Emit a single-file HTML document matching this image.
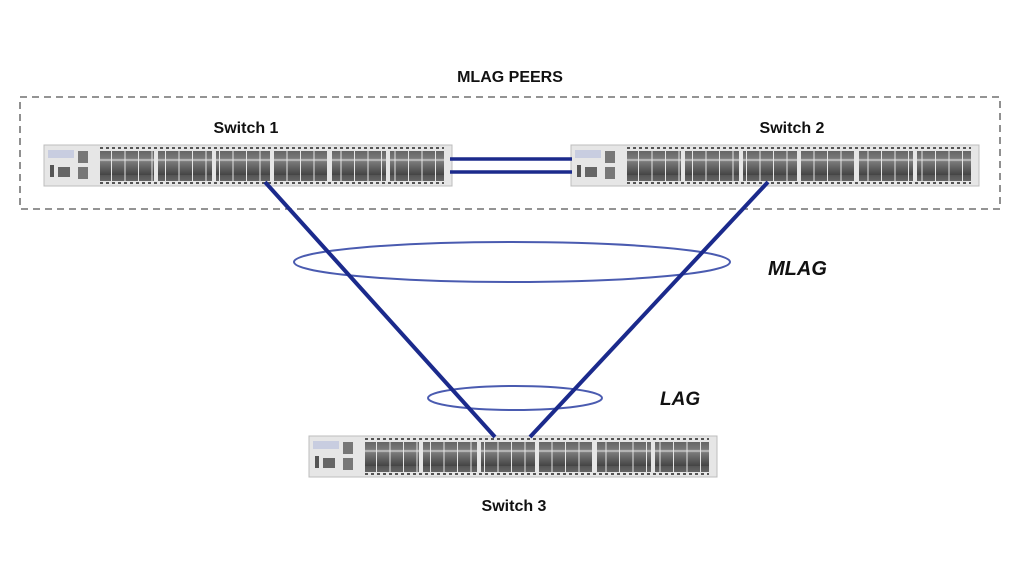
<!DOCTYPE html>
<html><head><meta charset="utf-8"><style>
html,body{margin:0;padding:0;background:#fff;}
svg{display:block;}
text{font-family:"Liberation Sans",Arial,sans-serif;font-weight:bold;fill:#111;}
</style></head><body>
<svg width="1024" height="563" viewBox="0 0 1024 563" xmlns="http://www.w3.org/2000/svg">
<defs>
<linearGradient id="pg" x1="0" y1="0" x2="0" y2="1">
<stop offset="0" stop-color="#555"/><stop offset="0.45" stop-color="#7a7a7a"/><stop offset="0.5" stop-color="#cfcfcf"/><stop offset="0.55" stop-color="#7a7a7a"/><stop offset="1" stop-color="#444"/>
</linearGradient>
<pattern id="ports" x="0" y="0" width="13.5" height="30" patternUnits="userSpaceOnUse">
<rect x="0.5" y="0" width="12.5" height="30" fill="url(#pg)"/>
</pattern>
<g id="sw">
<rect x="0" y="0" width="408" height="41" fill="#e6e6e6" stroke="#bdbdbd" stroke-width="1"/>
<rect x="4" y="5" width="26" height="8" fill="#c8cde0"/>
<rect x="6" y="20" width="4" height="12" fill="#555"/>
<rect x="14" y="22" width="12" height="10" fill="#666"/>
<rect x="34" y="6" width="10" height="12" fill="#777"/>
<rect x="34" y="22" width="10" height="12" fill="#777"/>
<g fill="url(#ports)">
<rect x="56" y="6" width="54" height="30"/>
<rect x="114" y="6" width="54" height="30"/>
<rect x="172" y="6" width="54" height="30"/>
<rect x="230" y="6" width="54" height="30"/>
<rect x="288" y="6" width="54" height="30"/>
<rect x="346" y="6" width="54" height="30"/>
</g>
<line x1="56" y1="3" x2="400" y2="3" stroke="#555" stroke-width="2" stroke-dasharray="3 3"/>
<line x1="56" y1="38" x2="400" y2="38" stroke="#555" stroke-width="2" stroke-dasharray="3 3"/>
</g>
</defs>
<text x="510" y="82" font-size="16" text-anchor="middle">MLAG PEERS</text>
<rect x="20" y="97" width="980" height="112" fill="none" stroke="#555" stroke-width="1.3" stroke-dasharray="7 5"/>
<text x="246" y="133" font-size="16" text-anchor="middle">Switch 1</text>
<text x="792" y="133" font-size="16" text-anchor="middle">Switch 2</text>
<use href="#sw" x="44" y="145"/>
<use href="#sw" x="571" y="145"/>
<use href="#sw" x="309" y="436"/>
<line x1="450" y1="159" x2="572" y2="159" stroke="#1b2a8c" stroke-width="3.5"/>
<line x1="450" y1="172" x2="572" y2="172" stroke="#1b2a8c" stroke-width="3.5"/>
<ellipse cx="512" cy="262" rx="218" ry="20" fill="none" stroke="#4a5bb0" stroke-width="2"/>
<ellipse cx="515" cy="398" rx="87" ry="12" fill="none" stroke="#4a5bb0" stroke-width="2"/>
<line x1="265" y1="182" x2="495" y2="437" stroke="#1b2a8c" stroke-width="4"/>
<line x1="768" y1="182" x2="530" y2="437" stroke="#1b2a8c" stroke-width="4"/>
<text x="768" y="275" font-size="20" font-style="italic">MLAG</text>
<text x="660" y="405" font-size="19" font-style="italic">LAG</text>
<text x="514" y="511" font-size="16" text-anchor="middle">Switch 3</text>
</svg>
</body></html>
